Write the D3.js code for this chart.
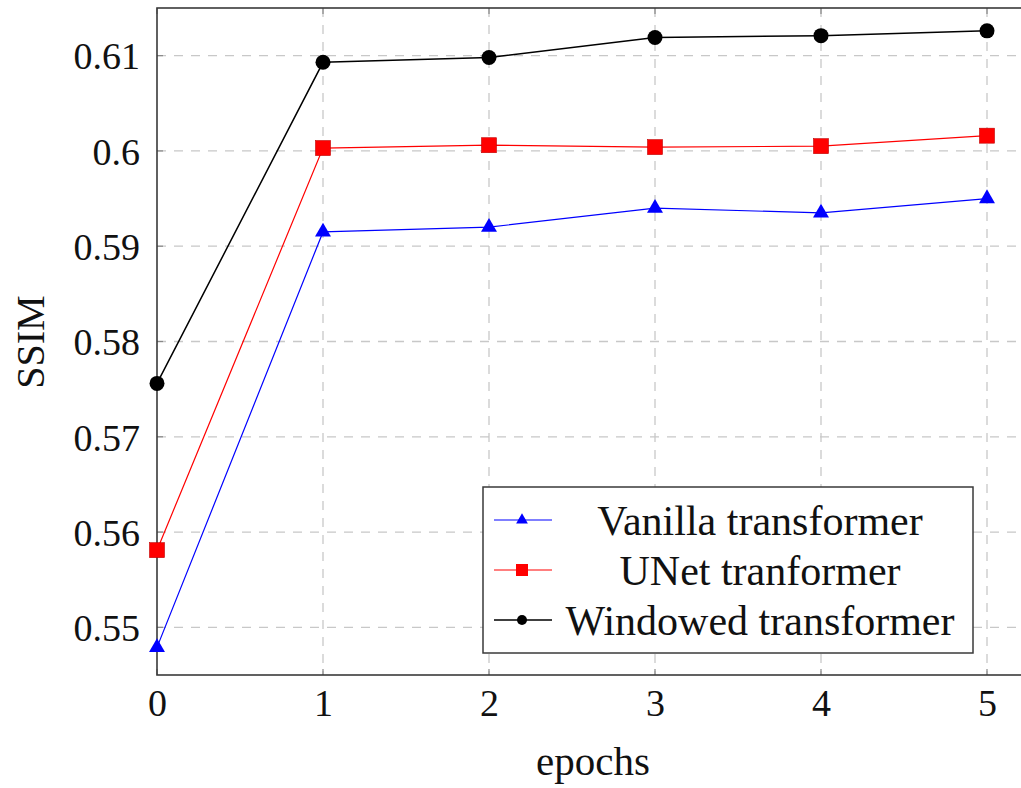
<!DOCTYPE html>
<html>
<head>
<meta charset="utf-8">
<script src="https://cdn.jsdelivr.net/npm/d3@7"></script>
<style>
  body { margin: 0; background: #fff; }
  svg text { font-family: "Liberation Serif", "DejaVu Serif", serif; fill: #111; }
</style>
</head>
<body>
<svg id="s" width="1021" height="788"></svg>
<script>
// data
const epochs = [0, 1, 2, 3, 4, 5];
const vanilla = [0.5479, 0.5915, 0.5920, 0.5940, 0.5935, 0.5950];
const unet = [0.5581, 0.6003, 0.6006, 0.6004, 0.6005, 0.6016];
const windowed = [0.5756, 0.6093, 0.6098, 0.6119, 0.6121, 0.6126];
const yTicks = [0.55, 0.56, 0.57, 0.58, 0.59, 0.6, 0.61];
const seriesNames = ["Vanilla transformer", "UNet tranformer", "Windowed transformer"];

const series = [
  { name: seriesNames[0], values: vanilla, color: "#0000ff", marker: "triangle", lw: 1.2 },
  { name: seriesNames[1], values: unet, color: "#ff0000", marker: "square", lw: 1.2 },
  { name: seriesNames[2], values: windowed, color: "#000000", marker: "circle", lw: 1.5 }
];

const svg = d3.select("#s"),
  pL = 157, pR = 1045, pT = 8, pB = 675;

const x = d3.scaleLinear().domain([0, 5]).range([157, 987]),
  y = d3.scaleLinear().domain([0.545, 0.615]).range([pB, pT]);

// grid
const grid = svg.append("g").attr("stroke", "#c8c8c8").attr("stroke-width", 1.3).attr("stroke-dasharray", "9,8");
grid.selectAll(".gx").data(epochs.slice(1)).join("line")
  .attr("x1", d => x(d)).attr("x2", d => x(d)).attr("y1", pT).attr("y2", pB);
grid.selectAll(".gy").data(yTicks).join("line")
  .attr("x1", pL).attr("x2", pR).attr("y1", d => y(d)).attr("y2", d => y(d));

// axes (labels only, pgfplots style inner ticks drawn separately)
const xAxis = svg.append("g").attr("transform", `translate(0,${pB})`)
  .call(d3.axisBottom(x).tickValues(epochs).tickSize(0).tickPadding(14).tickFormat(d3.format("d")));
const yAxis = svg.append("g").attr("transform", `translate(${pL},0)`)
  .call(d3.axisLeft(y).tickValues(yTicks).tickSize(0).tickPadding(17).tickFormat(d => d === 0.6 ? "0.6" : d3.format(".2f")(d)));
[xAxis, yAxis].forEach(a => {
  a.select(".domain").remove();
  a.selectAll("text").attr("font-size", 38).attr("font-family", "Liberation Serif").attr("fill", "#111");
});
xAxis.selectAll("text").attr("y", 41).attr("dy", null);
yAxis.selectAll("text").attr("dy", "0.35em");

// inner ticks
const ticks = svg.append("g").attr("stroke", "#888").attr("stroke-width", 1.2);
ticks.selectAll(".tx").data(epochs).join("line")
  .attr("x1", d => x(d)).attr("x2", d => x(d)).attr("y1", pB).attr("y2", pB - 6);
ticks.selectAll(".tx2").data(epochs).join("line")
  .attr("x1", d => x(d)).attr("x2", d => x(d)).attr("y1", pT).attr("y2", pT + 6);
ticks.selectAll(".ty").data(yTicks).join("line")
  .attr("x1", pL).attr("x2", pL + 6).attr("y1", d => y(d)).attr("y2", d => y(d));

// frame
svg.append("rect").attr("x", pL).attr("y", pT).attr("width", pR - pL).attr("height", pB - pT)
  .attr("fill", "none").attr("stroke", "#3a3a3a").attr("stroke-width", 1.6);

// markers
function drawMarker(g, type, color, cx, cy) {
  if (type === "circle") {
    g.append("circle").attr("cx", cx).attr("cy", cy).attr("r", 7.5).attr("fill", color);
  } else if (type === "square") {
    g.append("rect").attr("x", cx - 7.5).attr("y", cy - 7.5).attr("width", 15).attr("height", 15)
      .attr("fill", color).attr("stroke", "#c00000").attr("stroke-width", 0.6);
  } else {
    g.append("path").attr("d", d3.symbol(d3.symbolTriangle, 110)()).attr("transform", `translate(${cx},${cy})`)
      .attr("fill", color);
  }
}

const line = d3.line().x((d, i) => x(epochs[i])).y(d => y(d));
series.forEach(s => {
  const g = svg.append("g");
  g.append("path").datum(s.values).attr("d", line).attr("fill", "none")
    .attr("stroke", s.color).attr("stroke-width", s.lw);
  s.values.forEach((v, i) => drawMarker(g, s.marker, s.color, x(epochs[i]), y(v)));
});

// axis titles
svg.append("text").attr("x", 593).attr("y", 775).attr("text-anchor", "middle").attr("font-size", 41).text("epochs");
svg.append("text").attr("transform", "translate(44,342) rotate(-90)").attr("text-anchor", "middle")
  .attr("font-size", 40).text("SSIM");

// legend
const lg = svg.append("g");
lg.append("rect").attr("x", 483).attr("y", 487).attr("width", 490).attr("height", 166)
  .attr("fill", "#fff").attr("stroke", "#3a3a3a").attr("stroke-width", 1.5);
series.forEach((s, i) => {
  const cy = 520 + i * 50;
  lg.append("line").attr("x1", 494).attr("x2", 552).attr("y1", cy).attr("y2", cy)
    .attr("stroke", s.color).attr("stroke-width", s.lw);
  const gm = lg.append("g");
  if (s.marker === "circle") gm.append("circle").attr("cx", 522).attr("cy", cy).attr("r", 5).attr("fill", s.color);
  else if (s.marker === "square") gm.append("rect").attr("x", 516).attr("y", cy - 6).attr("width", 12).attr("height", 12).attr("fill", s.color);
  else gm.append("path").attr("d", d3.symbol(d3.symbolTriangle, 60)()).attr("transform", `translate(522,${cy})`).attr("fill", s.color);
  lg.append("text").attr("x", 760).attr("y", cy).attr("dy", "0.35em").attr("text-anchor", "middle")
    .attr("font-size", 42).text(s.name);
});
</script>
</body>
</html>
